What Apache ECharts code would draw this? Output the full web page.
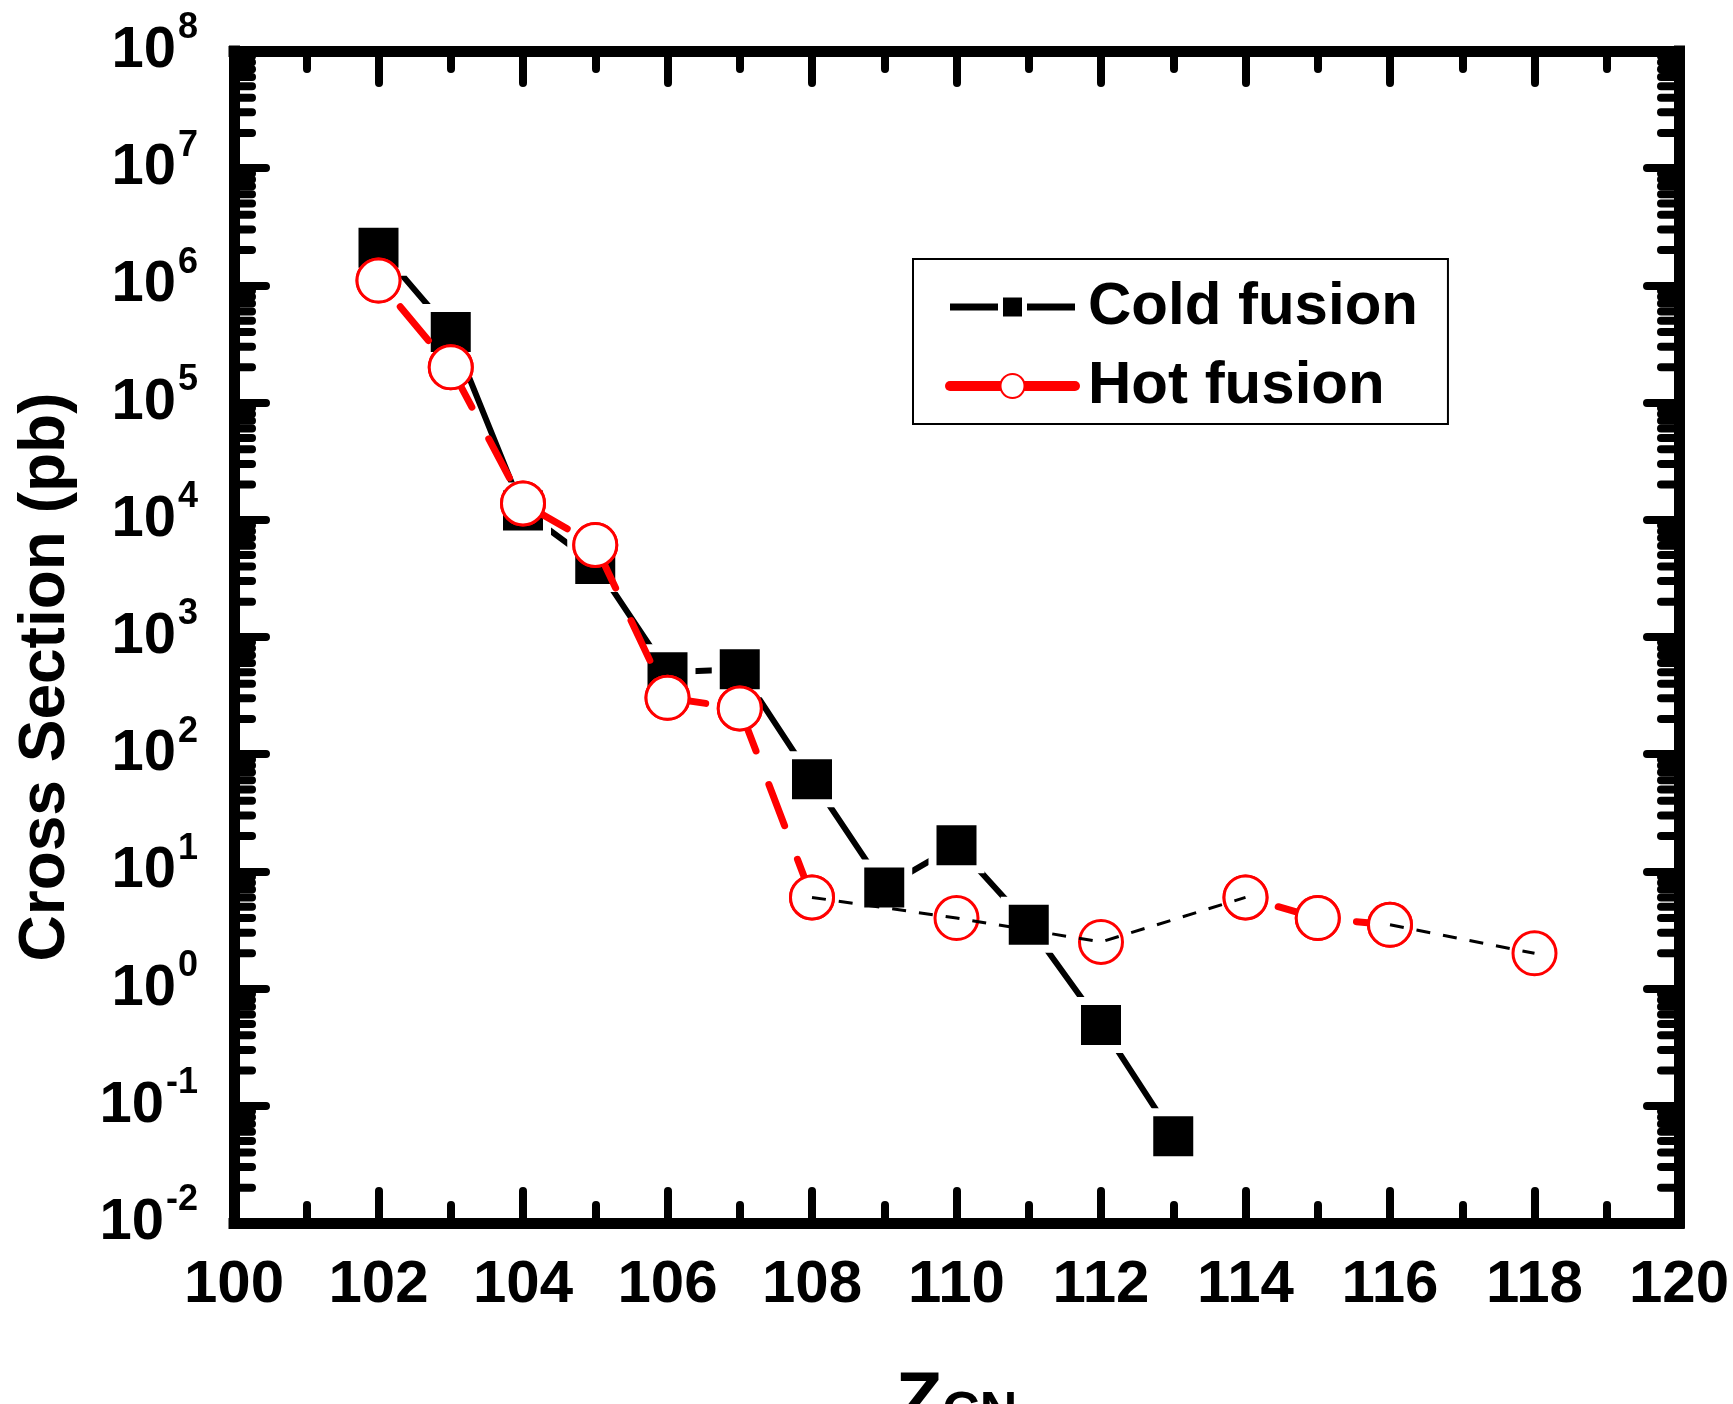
<!DOCTYPE html>
<html>
<head>
<meta charset="utf-8">
<script src="https://cdn.jsdelivr.net/npm/echarts@6/dist/echarts.min.js"></script>
<style>
  html, body { margin: 0; padding: 0; background: #fff; }
  #chart { width: 1733px; height: 1404px; }
</style>
</head>
<body>
<div id="chart"></div>
<script>
  // cold fusion (squares)
  var coldZ  = [102, 103, 104, 105, 106, 107, 108, 109, 110, 111, 112, 113];
  var coldCS = [2.1e6, 4.0e5, 1.2e4, 4.2e3, 500, 530, 61, 7.3, 16.7, 3.5, 0.49, 0.055];

  // hot fusion (open circles)
  var hotZ  = [102, 103, 104, 105, 106, 107, 108, 110, 112, 114, 115, 116, 118];
  var hotCS = [1.1e6, 2.0e5, 1.38e4, 6.1e3, 303, 246, 6.0, 4.0, 2.5, 6.0, 4.0, 3.5, 2.0];

  // which hot-fusion points are joined by the thick red line / the thin black dashes
  var redRuns   = [[102, 108], [114, 116]];
  var blackRuns = [[108, 114], [116, 118]];

  var xTicks = [100, 102, 104, 106, 108, 110, 112, 114, 116, 118, 120];
  var yDecades = [-2, -1, 0, 1, 2, 3, 4, 5, 6, 7, 8];

  var sans = '"Liberation Sans", Arial, sans-serif';

  function runData(runs) {
    var out = [];
    runs.forEach(function (r, k) {
      if (k) out.push(['-', '-']);
      hotZ.forEach(function (z, i) {
        if (z >= r[0] && z <= r[1]) out.push([z, hotCS[i]]);
      });
    });
    return out;
  }

  // log minor ticks 2..9 in every decade
  var minorVals = [];
  for (var d = yDecades[0]; d < yDecades[yDecades.length - 1]; d++) {
    for (var k = 2; k <= 9; k++) minorVals.push([xTicks[0], k * Math.pow(10, d)]);
  }

  var chart = echarts.init(document.getElementById('chart'));

  var axisLine = { show: true, onZero: false, lineStyle: { color: '#000', width: 11, cap: 'square' } };
  var majorTick = { show: true, inside: true, length: 32, lineStyle: { color: '#000', width: 8, cap: 'round' } };
  var minorTick = { show: true, splitNumber: 2, length: 18, lineStyle: { color: '#000', width: 8, cap: 'round' } };

  chart.setOption({
    backgroundColor: '#fff',
    animation: false,
    grid: { left: 234, right: 54, top: 51, bottom: 181, containLabel: false, outerBoundsMode: 'none' },
    legend: {
      orient: 'vertical',
      left: 913,
      top: 259,
      padding: [18, 30, 8, 32],
      borderColor: '#000',
      borderWidth: 2,
      itemWidth: 125,
      itemHeight: 30,
      itemGap: 19,
      textStyle: { fontSize: 60, fontWeight: 'bold', fontFamily: sans, color: '#000', padding: [0, 0, 0, 8] },
      data: [
        { name: 'Cold fusion', itemStyle: { borderWidth: 5 }, lineStyle: { width: 7 } },
        { name: 'Hot fusion', itemStyle: { borderWidth: 2 }, lineStyle: { type: 'solid', width: 10 } }
      ]
    },
    xAxis: [
      {
        type: 'value', min: xTicks[0], max: xTicks[xTicks.length - 1], interval: 2,
        position: 'bottom',
        axisLine: axisLine, axisTick: majorTick, minorTick: minorTick,
        splitLine: { show: false },
        axisLabel: {
          margin: 32, color: '#000', fontSize: 60, fontWeight: 'bold', fontFamily: sans,
          showMinLabel: true, showMaxLabel: true
        },
        name: '{z|Z}{s|CN}',
        nameLocation: 'middle',
        nameGap: 143,
        nameTextStyle: {
          rich: {
            z: { fontSize: 76, fontWeight: 'bold', fontFamily: sans, color: '#000', verticalAlign: 'top' },
            s: { fontSize: 52, fontWeight: 'bold', fontFamily: sans, color: '#000', verticalAlign: 'top', padding: [22, 0, 0, 0] }
          }
        }
      },
      {
        type: 'value', min: xTicks[0], max: xTicks[xTicks.length - 1], interval: 2,
        position: 'top',
        axisLine: axisLine, axisTick: majorTick, minorTick: minorTick,
        splitLine: { show: false },
        axisLabel: { show: false }
      }
    ],
    yAxis: [
      {
        type: 'log', logBase: 10, min: 0.01, max: 1e8, interval: 1, splitNumber: 10,
        position: 'left',
        axisLine: axisLine, axisTick: majorTick,
        splitLine: { show: false },
        axisLabel: {
          margin: 36, color: '#000',
          formatter: function (v) {
            var e = Math.round(Math.log10(v));
            return '{b|10}{e|' + e + '}';
          },
          rich: {
            b: { fontSize: 58, fontWeight: 'bold', fontFamily: sans, color: '#000', verticalAlign: 'middle' },
            e: { fontSize: 36, fontWeight: 'bold', fontFamily: sans, color: '#000', verticalAlign: 'middle', padding: [0, 0, 45, 2] }
          }
        },
        name: 'Cross Section (pb)',
        nameLocation: 'middle',
        nameGap: 156,
        nameTextStyle: { fontSize: 64, fontWeight: 'bold', fontFamily: sans, color: '#000', padding: [0, 80, 0, 0] }
      },
      {
        type: 'log', logBase: 10, min: 0.01, max: 1e8, interval: 1, splitNumber: 10,
        position: 'right',
        axisLine: axisLine, axisTick: majorTick,
        splitLine: { show: false },
        axisLabel: { show: false }
      }
    ],
    series: [
      {
        name: 'Cold fusion',
        type: 'line',
        z: 2,
        data: coldZ.map(function (z, i) { return [z, coldCS[i]]; }),
        symbol: 'rect',
        symbolSize: 48,
        itemStyle: { color: '#000', borderColor: '#fff', borderWidth: 8, opacity: 1 },
        lineStyle: { color: '#000', width: 6 }
      },
      {
        name: 'Hot fusion',
        type: 'line',
        z: 3,
        data: runData(redRuns),
        symbol: 'circle',
        symbolSize: 43,
        itemStyle: { color: '#fff', borderColor: '#ff0000', borderWidth: 3, opacity: 1 },
        lineStyle: { color: '#ff0000', width: 7, type: [44, 36], dashOffset: 46, cap: 'round' }
      },
      {
        name: 'hot points',
        type: 'scatter',
        z: 4,
        data: hotZ.map(function (z, i) { return [z, hotCS[i]]; }),
        symbol: 'circle',
        symbolSize: 43,
        itemStyle: { color: '#fff', borderColor: '#ff0000', borderWidth: 3, opacity: 1 }
      },
      {
        name: 'link',
        type: 'line',
        z: 5,
        silent: true,
        data: runData(blackRuns),
        symbol: 'none',
        lineStyle: { color: '#000', width: 3, type: [14, 13] }
      },
      {
        name: 'minor ticks',
        type: 'custom',
        z: 5,
        silent: true,
        clip: false,
        data: minorVals,
        renderItem: function (params, api) {
          var v = api.value(1);
          var pl = api.coord([xTicks[0], v]);
          var pr = api.coord([xTicks[xTicks.length - 1], v]);
          var st = { stroke: '#000', lineWidth: 8, lineCap: 'round' };
          return {
            type: 'group',
            children: [
              { type: 'line', shape: { x1: pl[0], y1: pl[1], x2: pl[0] + 18, y2: pl[1] }, style: st },
              { type: 'line', shape: { x1: pr[0], y1: pr[1], x2: pr[0] - 18, y2: pr[1] }, style: st }
            ]
          };
        }
      }
    ]
  });
</script>
</body>
</html>
